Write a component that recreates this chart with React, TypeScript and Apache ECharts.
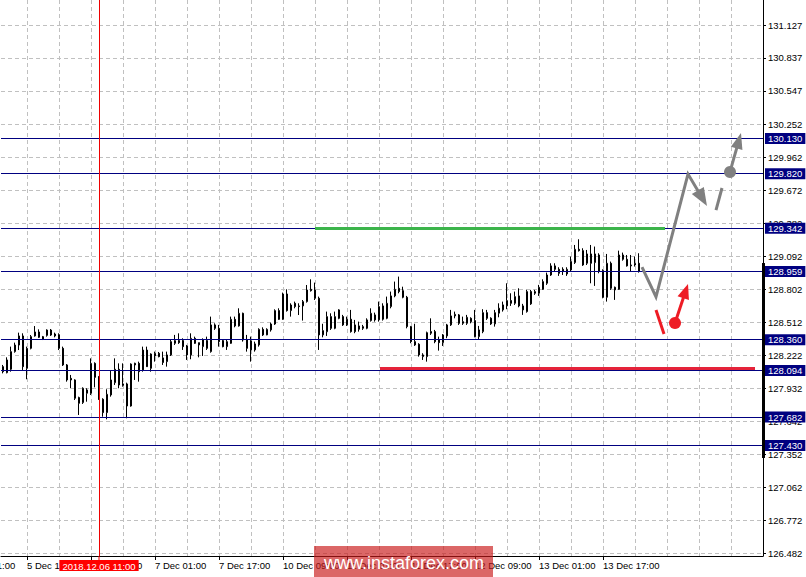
import { useEffect, useRef } from "react";
import * as echarts from "echarts";

// ---- Candles (H1), index 0..159 ----
const opens = [
  128.123, 128.070, 128.100, 128.255, 128.313, 128.393, 128.108, 128.284, 128.393, 128.428,
  128.387, 128.398, 128.401, 128.410, 128.404, 128.284, 128.138, 128.020, 128.006, 127.851,
  127.807, 127.889, 127.889, 128.152, 128.035, 127.836, 127.719, 127.874, 127.982, 128.100,
  127.971, 127.971, 127.777, 128.152, 128.152, 128.094, 128.269, 128.108, 128.217, 128.240,
  128.200, 128.167, 128.226, 128.328, 128.352, 128.352, 128.305, 128.226, 128.372, 128.334,
  128.299, 128.352, 128.255, 128.490, 128.460, 128.352, 128.299, 128.328, 128.539, 128.481,
  128.592, 128.358, 128.350, 128.270, 128.314, 128.451, 128.402, 128.446, 128.498, 128.616,
  128.539, 128.762, 128.616, 128.680, 128.657, 128.657, 128.695, 128.803, 128.797, 128.724,
  128.402, 128.430, 128.563, 128.460, 128.622, 128.563, 128.490, 128.540, 128.490, 128.481,
  128.460, 128.460, 128.528, 128.578, 128.534, 128.657, 128.548, 128.651, 128.745, 128.812,
  128.791, 128.733, 128.475, 128.343, 128.320, 128.211, 128.211, 128.431, 128.431, 128.358,
  128.334, 128.393, 128.490, 128.569, 128.578, 128.504, 128.504, 128.548, 128.528, 128.387,
  128.431, 128.598, 128.549, 128.499, 128.593, 128.622, 128.657, 128.704, 128.680, 128.745,
  128.657, 128.607, 128.783, 128.768, 128.768, 128.803, 128.856, 128.929, 129.009, 128.979,
  128.979, 128.938, 128.973, 129.038, 129.155, 129.143, 129.032, 129.114, 129.038, 129.105,
  128.968, 128.733, 129.032, 128.821, 128.803, 129.105, 129.067, 129.009, 129.017, 129.032,
];
const highs = [
  128.138, 128.205, 128.299, 128.334, 128.422, 128.416, 128.299, 128.401, 128.480, 128.451,
  128.393, 128.451, 128.454, 128.422, 128.416, 128.299, 128.146, 128.050, 128.012, 127.859,
  127.941, 127.933, 128.196, 128.161, 128.041, 127.845, 127.924, 128.088, 128.196, 128.152,
  128.152, 127.982, 128.152, 128.158, 128.167, 128.299, 128.299, 128.240, 128.255, 128.252,
  128.255, 128.255, 128.358, 128.402, 128.416, 128.372, 128.314, 128.416, 128.387, 128.334,
  128.372, 128.387, 128.563, 128.504, 128.490, 128.358, 128.358, 128.563, 128.563, 128.636,
  128.598, 128.402, 128.387, 128.343, 128.460, 128.469, 128.460, 128.510, 128.627, 128.636,
  128.774, 128.803, 128.680, 128.695, 128.680, 128.709, 128.841, 128.891, 128.862, 128.739,
  128.500, 128.607, 128.592, 128.607, 128.628, 128.578, 128.563, 128.622, 128.534, 128.519,
  128.490, 128.548, 128.636, 128.598, 128.695, 128.680, 128.739, 128.783, 128.871, 128.915,
  128.826, 128.745, 128.481, 128.500, 128.329, 128.241, 128.431, 128.548, 128.446, 128.387,
  128.410, 128.499, 128.622, 128.607, 128.586, 128.563, 128.578, 128.557, 128.622, 128.481,
  128.628, 128.622, 128.557, 128.622, 128.680, 128.695, 128.856, 128.768, 128.783, 128.812,
  128.675, 128.798, 128.798, 128.798, 128.842, 128.891, 128.950, 129.032, 129.032, 128.997,
  128.997, 128.997, 129.091, 129.193, 129.243, 129.164, 129.149, 129.193, 129.179, 129.120,
  128.979, 129.114, 129.047, 128.827, 129.143, 129.126, 129.105, 129.105, 129.091, 129.120,
];
const lows = [
  128.064, 128.064, 128.079, 128.246, 128.269, 128.094, 128.012, 128.275, 128.387, 128.375,
  128.357, 128.387, 128.393, 128.381, 128.269, 128.129, 127.991, 127.933, 127.830, 127.698,
  127.795, 127.815, 127.874, 127.941, 127.830, 127.683, 127.660, 127.859, 127.962, 127.933,
  127.947, 127.669, 127.771, 128.006, 127.991, 128.079, 128.120, 128.079, 128.167, 128.205,
  128.138, 128.123, 128.217, 128.314, 128.323, 128.270, 128.182, 128.188, 128.323, 128.205,
  128.217, 128.270, 128.246, 128.446, 128.299, 128.293, 128.270, 128.323, 128.469, 128.475,
  128.343, 128.255, 128.167, 128.255, 128.299, 128.393, 128.399, 128.431, 128.490, 128.534,
  128.534, 128.607, 128.563, 128.636, 128.577, 128.528, 128.686, 128.783, 128.709, 128.270,
  128.381, 128.393, 128.446, 128.452, 128.540, 128.481, 128.481, 128.422, 128.417, 128.431,
  128.446, 128.452, 128.519, 128.519, 128.519, 128.528, 128.540, 128.636, 128.733, 128.768,
  128.724, 128.460, 128.329, 128.305, 128.211, 128.182, 128.167, 128.402, 128.329, 128.264,
  128.305, 128.373, 128.481, 128.548, 128.490, 128.490, 128.490, 128.504, 128.381, 128.358,
  128.417, 128.534, 128.490, 128.475, 128.557, 128.607, 128.628, 128.657, 128.666, 128.645,
  128.578, 128.598, 128.666, 128.754, 128.745, 128.798, 128.842, 128.921, 128.959, 128.921,
  128.929, 128.921, 128.959, 129.026, 129.135, 129.009, 129.017, 128.856, 128.833, 128.944,
  128.724, 128.695, 128.798, 128.710, 128.798, 129.055, 129.003, 128.959, 129.003, 128.950,
];
const closes = [
  128.079, 128.182, 128.255, 128.313, 128.393, 128.123, 128.284, 128.387, 128.428, 128.381,
  128.363, 128.445, 128.445, 128.393, 128.284, 128.138, 128.006, 128.006, 127.845, 127.801,
  127.933, 127.918, 128.152, 128.029, 127.836, 127.719, 127.880, 128.006, 128.100, 127.962,
  127.959, 127.777, 128.146, 128.138, 128.079, 128.269, 128.123, 128.234, 128.240, 128.211,
  128.160, 128.226, 128.343, 128.352, 128.334, 128.299, 128.226, 128.372, 128.328, 128.314,
  128.358, 128.284, 128.490, 128.460, 128.343, 128.299, 128.343, 128.539, 128.481, 128.592,
  128.358, 128.284, 128.270, 128.323, 128.451, 128.402, 128.451, 128.498, 128.616, 128.539,
  128.762, 128.616, 128.665, 128.651, 128.651, 128.695, 128.797, 128.791, 128.724, 128.402,
  128.440, 128.563, 128.460, 128.563, 128.548, 128.490, 128.540, 128.431, 128.431, 128.452,
  128.475, 128.534, 128.592, 128.534, 128.651, 128.540, 128.680, 128.745, 128.803, 128.783,
  128.733, 128.475, 128.343, 128.314, 128.226, 128.226, 128.422, 128.417, 128.343, 128.334,
  128.402, 128.490, 128.569, 128.583, 128.504, 128.519, 128.557, 128.519, 128.387, 128.446,
  128.598, 128.548, 128.499, 128.598, 128.637, 128.666, 128.704, 128.680, 128.739, 128.657,
  128.622, 128.783, 128.675, 128.783, 128.821, 128.871, 128.929, 129.009, 128.979, 128.944,
  128.959, 128.979, 129.047, 129.155, 129.143, 129.017, 129.114, 129.032, 129.114, 128.959,
  128.733, 129.032, 128.812, 128.798, 129.105, 129.067, 129.009, 129.017, 129.032, 128.959,
];

// ---- Axes ----
const xLabelIndex = [-10, 6, 22, 38, 54, 70, 86, 102, 118, 134, 150];
const xLabelText = [
  "5 Dec 01:00", "5 Dec 17:00", "6 Dec 09:00", "7 Dec 01:00", "7 Dec 17:00", "10 Dec 09:00",
  "11 Dec 01:00", "11 Dec 17:00", "12 Dec 09:00", "13 Dec 01:00", "13 Dec 17:00",
];
const yTicks = [
  126.482, 126.772, 127.062, 127.352, 127.642, 127.932, 128.222, 128.512, 128.802,
  129.092, 129.382, 129.672, 129.962, 130.252, 130.547, 130.837, 131.127,
];
const yMin = 126.458;
const yMax = 131.347;
const xMin = -0.5;
const xMax = 190;

// ---- Levels & annotations (data coordinates: [bar index, price]) ----
const levels = [130.13, 129.82, 129.342, 128.959, 128.36, 128.094, 127.682, 127.43];
const crosshairIndex = 24;
const crosshairLabel = "2018.12.06 11:00";
const resistanceLine = [[78, 129.336], [165.5, 129.336]];
const supportLine = [[94.25, 128.105], [188, 128.105]];
const grayPath = [[159.75, 128.999], [163.25, 128.736], [171.25, 129.817], [176, 129.536]];
const grayDash = [[179.75, 129.694], [178.25, 129.5]];
const grayDot = [181.75, 129.835];
const grayTip = [184.5, 130.178];
const redDash = [[163.25, 128.621], [165.25, 128.41]];
const redDot = [168, 128.507];
const redTip = [171.25, 128.85];
const rangeBar = [129.034, 127.32];
const watermark = "www.instaforex.com";

const FONT = "Liberation Sans";

export default function App() {
  const ref = useRef<HTMLDivElement>(null);

  useEffect(() => {
    const el = ref.current;
    if (!el) return;
    const chart = echarts.init(el, null, { renderer: "svg" });
    const candleData = opens.map((o, i) => [i, o, closes[i], lows[i], highs[i]]);
    const gridCols: number[] = [];
    for (let v = 6; v <= xMax; v += 8) gridCols.push(v);
    const xVisible = xLabelIndex.filter((v) => v >= xMin && v <= xMax);

    chart.setOption({
      animation: false,
      backgroundColor: "#ffffff",
      grid: { left: 1, right: 43, top: 0, bottom: 21, outerBoundsMode: "none" },
      xAxis: [
        {
          type: "value",
          min: xMin,
          max: xMax,
          position: "bottom",
          axisLine: { show: true, onZero: false, lineStyle: { color: "#000000", width: 1 } },
          axisTick: { show: true, customValues: xVisible, length: 4, lineStyle: { color: "#000000" } },
          axisLabel: {
            show: true,
            customValues: xVisible,
            formatter: (v: number) => {
              const k = xLabelIndex.indexOf(Math.round(v));
              return k >= 0 ? xLabelText[k] : "";
            },
            align: "left",
            margin: 4,
            color: "#000000",
            fontFamily: FONT,
            fontSize: 9.5,
          },
          splitLine: { show: false },
        },
        {
          type: "value",
          min: xMin,
          max: xMax,
          position: "top",
          axisLine: { show: false },
          axisTick: { show: false, customValues: gridCols },
          axisLabel: { show: false },
          splitLine: { show: true, lineStyle: { color: "#c0c0c0", width: 1, type: [4, 3] } },
        },
      ],
      yAxis: {
        type: "value",
        position: "right",
        min: yMin,
        max: yMax,
        axisLine: { show: true, onZero: false, lineStyle: { color: "#000000", width: 1 } },
        axisTick: { show: true, customValues: yTicks, length: 3, lineStyle: { color: "#000000" } },
        axisLabel: {
          customValues: yTicks,
          formatter: (v: number) => v.toFixed(3),
          margin: 5,
          color: "#000000",
          fontFamily: FONT,
          fontSize: 9.5,
        },
        splitLine: { show: true, lineStyle: { color: "#c0c0c0", width: 1, type: [4, 3] } },
      },
      series: [
        {
          type: "candlestick",
          xAxisIndex: 0,
          yAxisIndex: 0,
          data: candleData,
          encode: { x: 0, y: [1, 2, 3, 4] },
          barWidth: 2,
          itemStyle: {
            color: "#ffffff",
            color0: "#000000",
            borderColor: "#000000",
            borderColor0: "#000000",
            borderWidth: 1,
          },
          markLine: {
            silent: true,
            symbol: ["none", "none"],
            animation: false,
            data: [
              ...levels.map((v) => ({
                yAxis: v,
                lineStyle: { color: "#000080", width: 1, type: "solid" },
                label: {
                  show: true,
                  position: "end",
                  distance: 2,
                  formatter: v.toFixed(3),
                  color: "#ffffff",
                  backgroundColor: "#000080",
                  padding: [1, 3, 0, 3],
                  fontFamily: FONT,
                  fontSize: 9.5,
                },
              })),
              {
                xAxis: crosshairIndex,
                lineStyle: { color: "#ee0000", width: 1, type: "solid" },
                label: { show: false },
              },
              [
                {
                  coord: resistanceLine[0],
                  lineStyle: { color: "#3cb44b", width: 3, type: "solid" },
                  label: { show: false },
                },
                { coord: resistanceLine[1] },
              ],
              [
                {
                  coord: supportLine[0],
                  lineStyle: { color: "#e5233a", width: 3, type: "solid" },
                  label: { show: false },
                },
                { coord: supportLine[1] },
              ],
            ],
          },
        },
      ],
    });

    const P = (v: number[]) => chart.convertToPixel({ seriesIndex: 0 }, v) as number[];
    const head = (a: number[], b: number[], len: number, half: number) => {
      const dx = b[0] - a[0];
      const dy = b[1] - a[1];
      const L = Math.hypot(dx, dy) || 1;
      const ux = dx / L;
      const uy = dy / L;
      const bx = b[0] - ux * len;
      const by = b[1] - uy * len;
      return {
        base: [bx + ux * 2, by + uy * 2],
        pts: [
          [b[0], b[1]],
          [bx - uy * half, by + ux * half],
          [bx + uy * half, by - ux * half],
        ],
      };
    };

    const GRAY = "#808080";
    const RED = "#ee1c25";
    const g = grayPath.map(P);
    const gHead = head(g[2], g[3], 18, 7);
    const gDot = P(grayDot);
    const gTip = P(grayTip);
    const gHead2 = head(gDot, gTip, 16, 6);
    const rDot = P(redDot);
    const rTip = P(redTip);
    const rHead = head(rDot, rTip, 15, 6);
    const rb0 = P([xMax, rangeBar[0]]);
    const rb1 = P([xMax, rangeBar[1]]);
    const cross = P([crosshairIndex, yMin]);
    const far = P([xLabelIndex[0], yMin]);

    chart.setOption({
      graphic: [
        {
          type: "rect",
          z: 50,
          shape: { x: rb0[0] - 1, y: rb0[1], width: 3, height: rb1[1] - rb0[1] },
          style: { fill: "#000000" },
        },
        {
          type: "polyline",
          z: 50,
          shape: { points: [g[0], g[1], g[2], gHead.base] },
          style: { stroke: GRAY, lineWidth: 3, fill: null, lineJoin: "miter" },
        },
        { type: "polygon", z: 50, shape: { points: gHead.pts }, style: { fill: GRAY } },
        {
          type: "line",
          z: 50,
          shape: {
            x1: P(grayDash[0])[0], y1: P(grayDash[0])[1],
            x2: P(grayDash[1])[0], y2: P(grayDash[1])[1],
          },
          style: { stroke: GRAY, lineWidth: 3 },
        },
        { type: "circle", z: 50, shape: { cx: gDot[0], cy: gDot[1], r: 6 }, style: { fill: GRAY } },
        {
          type: "line",
          z: 50,
          shape: { x1: gDot[0], y1: gDot[1], x2: gHead2.base[0], y2: gHead2.base[1] },
          style: { stroke: GRAY, lineWidth: 3 },
        },
        { type: "polygon", z: 50, shape: { points: gHead2.pts }, style: { fill: GRAY } },
        {
          type: "line",
          z: 50,
          shape: {
            x1: P(redDash[0])[0], y1: P(redDash[0])[1],
            x2: P(redDash[1])[0], y2: P(redDash[1])[1],
          },
          style: { stroke: RED, lineWidth: 3 },
        },
        { type: "circle", z: 50, shape: { cx: rDot[0], cy: rDot[1], r: 6 }, style: { fill: RED } },
        {
          type: "line",
          z: 50,
          shape: { x1: rDot[0], y1: rDot[1], x2: rHead.base[0], y2: rHead.base[1] },
          style: { stroke: RED, lineWidth: 3 },
        },
        { type: "polygon", z: 50, shape: { points: rHead.pts }, style: { fill: RED } },
        {
          type: "text",
          z: 50,
          x: far[0] + 1,
          y: far[1] + 4,
          style: {
            text: xLabelText[0],
            fill: "#000000",
            font: `9.5px "${FONT}"`,
            align: "left",
            verticalAlign: "top",
          },
        },
        {
          type: "line",
          z: 50,
          shape: { x1: cross[0], y1: cross[1], x2: cross[0], y2: cross[1] + 4 },
          style: { stroke: "#ee0000", lineWidth: 1 },
        },
        {
          type: "text",
          z: 60,
          x: cross[0],
          y: cross[1] + 4,
          style: {
            text: crosshairLabel,
            fill: "#ffffff",
            backgroundColor: "#ff0000",
            padding: [1, 3, 0, 3],
            font: `9.5px "${FONT}"`,
            align: "center",
            verticalAlign: "top",
          },
        },
        {
          type: "rect",
          z: 70,
          shape: { x: 314, y: 546, width: 179, height: 31 },
          style: { fill: "rgba(200,25,25,0.66)" },
        },
        {
          type: "text",
          z: 71,
          x: 404,
          y: 563,
          style: {
            text: watermark,
            fill: "#ffffff",
            font: `18px "${FONT}"`,
            align: "center",
            verticalAlign: "middle",
          },
        },
      ],
    });

    return () => chart.dispose();
  }, []);

  return (
    <div
      ref={ref}
      style={{ position: "fixed", left: 0, top: 0, width: 806, height: 577, background: "#ffffff" }}
    />
  );
}
